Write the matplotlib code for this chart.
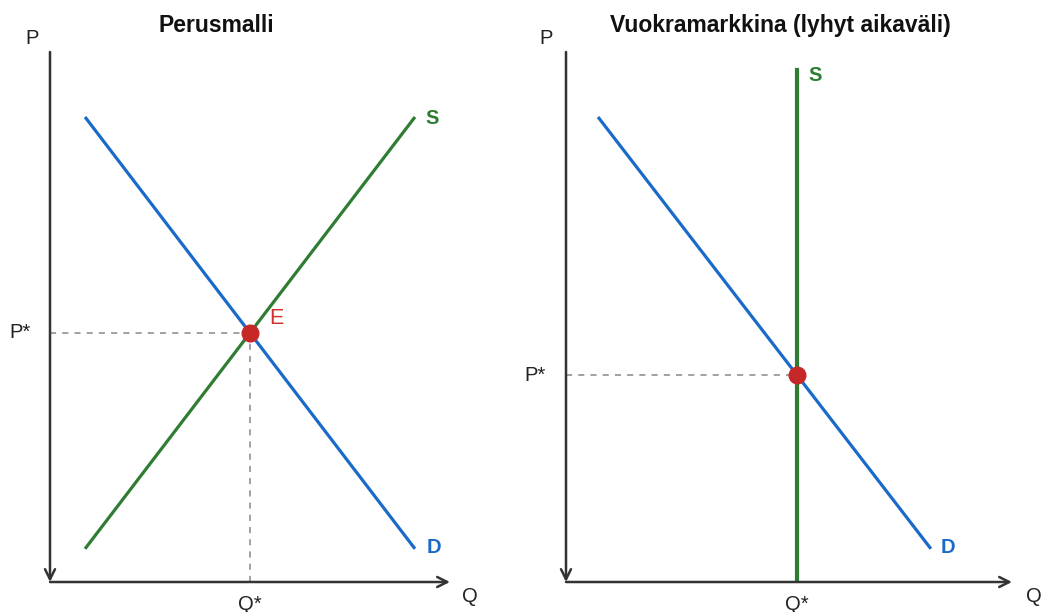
import matplotlib.pyplot as plt

# left panel: basic model
titles = ['Perusmalli', 'Vuokramarkkina (lyhyt aikaväli)']
d1_q = [0.9, 9.1]
d1_p = [8.75, 0.65]
s1_q = [0.9, 9.1]
s1_p = [0.65, 8.75]

# right panel: rental market, short run (vertical supply)
d2_q = [0.74, 8.16]
d2_p = [8.75, 0.65]
s2_q = [5.18, 5.18]
s2_p = [0.0, 9.66]

BLUE = '#1a6bc9'
GREEN = '#2e7d32'
RED = '#c62828'
AXIS = '#333333'
DASH = '#888888'

plt.rcParams['font.family'] = ['Liberation Sans', 'DejaVu Sans']

W, H = 1045, 612
fig = plt.figure(figsize=(W / 100, H / 100), dpi=100)


def make_axes(x0, x1):
    ax = fig.add_axes([x0 / W, 30 / H, (x1 - x0) / W, 530 / H])
    ax.set_xlim(0, 10)
    ax.set_ylim(0, 10)
    ax.axis('off')
    arrow = dict(arrowstyle='->', color=AXIS, lw=1.8, mutation_scale=18,
                 shrinkA=0, shrinkB=0)
    ax.annotate('', xy=(0, 0), xytext=(0, 10), arrowprops=arrow, annotation_clip=False)
    ax.annotate('', xy=(10, 0), xytext=(0, 0), arrowprops=arrow, annotation_clip=False)
    return ax


def line_cross(q1, p1, q2, p2):
    # intersection of two straight lines given by two points each
    k1 = (p1[1] - p1[0]) / (q1[1] - q1[0])
    if q2[0] == q2[1]:
        qe = q2[0]
        return qe, p1[0] + k1 * (qe - q1[0])
    k2 = (p2[1] - p2[0]) / (q2[1] - q2[0])
    qe = (p2[0] - p1[0] + k1 * q1[0] - k2 * q2[0]) / (k1 - k2)
    return qe, p1[0] + k1 * (qe - q1[0])


lab = dict(fontsize=14.5, color='#222222', ha='center', va='center')
bold = dict(fontsize=14.5, fontweight='bold', ha='center', va='center')

# ---- left ----
ax1 = make_axes(50, 450)
qe1, pe1 = line_cross(d1_q, d1_p, s1_q, s1_p)
ax1.plot([0, qe1], [pe1, pe1], color=DASH, lw=1.1, dashes=(4, 4), zorder=1)
ax1.plot([qe1, qe1], [0, pe1], color=DASH, lw=1.1, dashes=(4, 4), zorder=1)
ax1.plot(d1_q, d1_p, color=BLUE, lw=2.3, zorder=2)
ax1.plot(s1_q, s1_p, color=GREEN, lw=2.3, zorder=2)
ax1.plot(qe1, pe1, 'o', color=RED, ms=12, zorder=3)
ax1.text(s1_q[1] + 0.45, s1_p[1], 'S', color=GREEN, **bold)
ax1.text(d1_q[1] + 0.5, d1_p[1], 'D', color=BLUE, **bold)
ax1.text(qe1 + 0.48, pe1 + 0.27, 'E', color='#d32f2f', fontsize=15.5, ha='left', va='center')
ax1.text(-0.75, pe1, 'P*', **lab)
ax1.text(qe1, -0.42, 'Q*', **lab)
ax1.text(10.5, -0.28, 'Q', **lab)
ax1.text(-0.45, 10.25, 'P', **lab)
ax1.text(4.17, 10.5, titles[0], fontsize=16.5, fontweight='bold', color='#111111',
         ha='center', va='center')

# ---- right ----
ax2 = make_axes(566, 1012)
qe2, pe2 = line_cross(d2_q, d2_p, s2_q, s2_p)
ax2.plot([0, qe2], [pe2, pe2], color=DASH, lw=1.1, dashes=(4, 4), zorder=1)
ax2.plot(d2_q, d2_p, color=BLUE, lw=2.3, zorder=2)
ax2.plot(s2_q, s2_p, color=GREEN, lw=3, zorder=2)
ax2.plot(qe2, pe2, 'o', color=RED, ms=12, zorder=3)
ax2.text(s2_q[1] + 0.4, s2_p[1] - 0.1, 'S', color=GREEN, **bold)
ax2.text(d2_q[1] + 0.4, d2_p[1], 'D', color=BLUE, **bold)
ax2.text(-0.7, pe2, 'P*', **lab)
ax2.text(qe2, -0.42, 'Q*', **lab)
ax2.text(10.5, -0.28, 'Q', **lab)
ax2.text(-0.45, 10.25, 'P', **lab)
ax2.text(4.8, 10.5, titles[1], fontsize=16.5, fontweight='bold', color='#111111',
         ha='center', va='center')

fig.savefig('out.png', dpi=100)
